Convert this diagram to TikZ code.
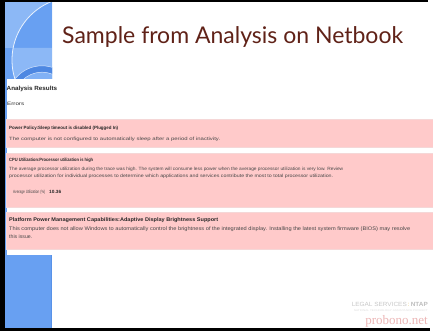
\documentclass[tikz,border=0pt]{standalone}
\usepackage{graphicx}
\usepackage{fontspec}
\setmainfont{Liberation Sans}
\newfontfamily\titlefont{Lato}
\newfontfamily\uifont{Liberation Sans}
\newfontfamily\footserif{Liberation Serif}
\definecolor{stripblue}{RGB}{104,160,242}
\definecolor{stripdark}{RGB}{78,136,226}
\definecolor{striplight}{RGB}{140,184,246}
\definecolor{titlebrown}{RGB}{96,34,24}
\definecolor{errpink}{RGB}{255,202,202}
\definecolor{errborder}{RGB}{245,215,215}
\definecolor{uitext}{RGB}{40,40,40}
\definecolor{footgray}{RGB}{200,200,200}
\definecolor{footpink}{RGB}{236,182,182}
\definecolor{footgold}{RGB}{230,200,110}
\newcommand{\fitw}[2]{\resizebox{#1pt}{\height}{#2}}
\tikzset{
  errbox/.style={fill=errpink, draw=errborder, line width=0.6pt},
  uibold/.style={anchor=base west, inner sep=0pt, text=uitext, font=\uifont\fontsize{4.6}{5}\selectfont\bfseries},
  uitxt/.style={anchor=base west, inner sep=0pt, text=uitext!85, font=\uifont\fontsize{4.6}{5}\selectfont},
  uibig/.style={font=\uifont\fontsize{5.2}{6}\selectfont},
}
\begin{document}
\begin{tikzpicture}[x=1pt,y=1pt]
\useasboundingbox (0,0) rectangle (433,-331);
\fill[white] (0,0) rectangle (433,-331);
% black frame
\fill[black] (0,0) rectangle (5,-331);
\fill[black] (0,0) rectangle (428,-2.2);
\fill[black] (0,-328.3) rectangle (430,-331);
% blue strip
\fill[stripblue] (5,-2.2) rectangle (52,-328.3);
\fill[stripdark!60!stripblue] (50.5,-80) rectangle (52,-328.3);
\begin{scope}
  \clip (5,-2.2) rectangle (52,-79);
  \fill[striplight, even odd rule] (5,-2.2) rectangle (52,-48) (75,-60) circle (63);
  \draw[white!85!stripblue, line width=0.8pt] (75,-60) circle (63);
  \fill[striplight!70!stripblue] (42,-100) circle (34);
  \draw[stripdark, line width=6pt] (42,-100) circle (31);
  \draw[white!70!stripblue, line width=0.5pt] (42,-100) circle (34.2);
  \draw[white!70!stripblue, line width=0.5pt] (42,-100) circle (27.8);
\end{scope}
% title
\node[anchor=base west, inner sep=0pt, text=titlebrown, font=\titlefont\fontsize{23}{27}\selectfont] (title) at (62,-43.5) {Sample from Analysis on Netbook};
% screenshot panel
\fill[white] (6.5,-79) rectangle (433,-255);
\node[anchor=base west, inner sep=0pt, text=uitext, font=\uifont\fontsize{6}{7}\selectfont\bfseries] (hdr) at (6.5,-90.5) {\fitw{50.5}{Analysis Results}};
\node[anchor=base west, inner sep=0pt, text=uitext, font=\uifont\fontsize{4.8}{5}\selectfont] (errs) at (7,-106) {\fitw{17}{Errors}};
% box 1
\fill[errbox] (6.5,-119) rectangle (433.5,-147.5);
\node[uibold] (b1t) at (9,-129) {\fitw{109}{Power Policy:Sleep timeout is disabled (Plugged In)}};
\node[uitxt] (b1a) at (9,-140) {\fitw{211}{The computer is not configured to automatically sleep after a period of inactivity.}};
% box 2
\fill[errbox] (6.5,-153) rectangle (433.5,-207);
\node[uibold] (b2t) at (9,-161) {\fitw{84}{CPU Utilization:Processor utilization is high}};
\node[uitxt] (b2a) at (9,-170) {\fitw{334}{The average processor utilization during the trace was high. The system will consume less power when the average processor utilization is very low. Review}};
\node[uitxt] (b2b) at (9,-177) {\fitw{324}{processor utilization for individual processes to determine which applications and services contribute the most to total processor utilization.}};
\node[uitxt] (b2c) at (13,-193) {\fitw{32}{Average Utilization (\%)}};
\node[uibold] (b2d) at (49,-193) {\fitw{12}{10.36}};
% box 3
\fill[errbox] (6.5,-212.5) rectangle (433.5,-249.5);
\node[uibold, font=\uifont\fontsize{5.3}{6}\selectfont\bfseries] (b3t) at (9,-221) {\fitw{209}{Platform Power Management Capabilities:Adaptive Display Brightness Support}};
\node[uitxt, uibig] (b3a) at (9,-230) {\fitw{401}{This computer does not allow Windows to automatically control the brightness of the integrated display. Installing the latest system firmware (BIOS) may resolve}};
\node[uitxt, uibig] (b3b) at (9,-238) {this issue.};
% footer
\node[anchor=base east, inner sep=0pt, font=\fontsize{6}{7}\selectfont] (lsn) at (428,-306.5) {\fitw{76}{\textcolor{footgray}{LEGAL SERVICES}\textcolor{footgold}{\,:\,}\textcolor{footgray!120}{\bfseries NTAP}}};
\node[anchor=base east, inner sep=0pt, text=footgray!60, font=\fontsize{2.6}{3}\selectfont] (lsn2) at (428,-311.5) {\fitw{74}{NATIONAL TECHNOLOGY ASSISTANCE PROJECT}};
\node[anchor=base east, inner sep=0pt, text=footpink, font=\footserif\fontsize{13}{15}\selectfont] (pb) at (428,-324) {probono.net};
\end{tikzpicture}
\end{document}
